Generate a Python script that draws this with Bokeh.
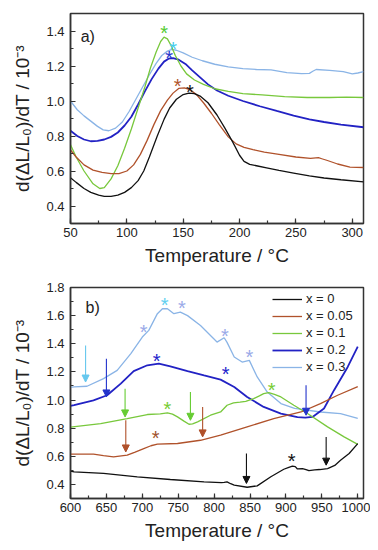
from bokeh.plotting import figure
from bokeh.layouts import column
from bokeh.models import (Range1d, SingleIntervalTicker, Label, Legend, LegendItem,
                          Arrow, NormalHead, ColumnDataSource, NumeralTickFormatter)
from bokeh.core.properties import value
from bokeh.embed import file_html
from bokeh.resources import INLINE

FONT = "Liberation Sans"

# ---------------- panel a) : 50-310 °C ----------------
a_t_x0 = [50, 55, 62, 68, 75, 80, 86, 92, 98, 104, 110, 115, 120, 127, 133, 138, 144, 150, 155, 160,
          165, 172, 180, 187, 194, 200, 204, 209, 215, 224, 235, 248, 262, 275, 290, 310]
a_v_x0 = [0.562, 0.535, 0.500, 0.478, 0.462, 0.455, 0.455, 0.462, 0.478, 0.505, 0.545, 0.600, 0.680,
          0.800, 0.895, 0.960, 1.010, 1.037, 1.045, 1.042, 1.028, 0.990, 0.920, 0.845, 0.765, 0.690,
          0.655, 0.638, 0.630, 0.618, 0.603, 0.588, 0.572, 0.560, 0.550, 0.538]

a_t_x005 = [50, 55, 62, 70, 78, 86, 93, 100, 106, 112, 118, 124, 130, 136, 141, 146, 151, 156, 162, 168,
            175, 182, 190, 197, 204, 212, 222, 235, 250, 263, 270, 273, 278, 287, 298, 310]
a_v_x005 = [0.72, 0.68, 0.635, 0.605, 0.592, 0.585, 0.585, 0.60, 0.635, 0.695, 0.775, 0.865, 0.945,
            1.005, 1.045, 1.072, 1.075, 1.065, 1.035, 0.99, 0.93, 0.865, 0.795, 0.755, 0.735, 0.722,
            0.708, 0.695, 0.680, 0.672, 0.676, 0.670, 0.660, 0.640, 0.622, 0.62]

a_t_x01 = [50, 55, 62, 70, 76, 80, 86, 92, 98, 104, 110, 116, 121, 126, 130, 133, 136, 139, 143, 148,
           153, 160, 168, 178, 190, 203, 220, 240, 260, 280, 295, 310]
a_v_x01 = [0.75, 0.68, 0.6, 0.527, 0.5, 0.505, 0.555, 0.63, 0.73, 0.84, 0.96, 1.08, 1.19, 1.28, 1.34,
           1.365, 1.355, 1.32, 1.26, 1.2, 1.155, 1.12, 1.095, 1.07, 1.055, 1.042, 1.035, 1.025, 1.02,
           1.02, 1.022, 1.02]

a_t_x02 = [50, 56, 62, 68, 74, 80, 86, 92, 98, 104, 110, 116, 122, 128, 133, 137, 141, 146, 152, 158,
           165, 172, 180, 190, 203, 218, 233, 248, 262, 275, 290, 310]
a_v_x02 = [0.83, 0.80, 0.78, 0.77, 0.772, 0.78, 0.795, 0.82, 0.86, 0.91, 0.98, 1.055, 1.125, 1.185,
           1.225, 1.242, 1.245, 1.236, 1.212, 1.175, 1.135, 1.095, 1.06, 1.03, 1.0, 0.97, 0.943, 0.917,
           0.895, 0.88, 0.865, 0.85]

a_t_x03 = [50, 56, 62, 68, 74, 79, 84, 90, 96, 102, 108, 114, 120, 126, 131, 136, 140, 144, 150, 158,
           167, 178, 190, 203, 215, 228, 242, 255, 262, 265, 268, 280, 292, 300, 305, 310]
a_v_x03 = [1.0, 0.95, 0.915, 0.885, 0.855, 0.835, 0.83, 0.845, 0.88, 0.94, 1.01, 1.08, 1.15, 1.215,
           1.26, 1.285, 1.295, 1.29, 1.275, 1.25, 1.23, 1.21, 1.195, 1.185, 1.18, 1.178, 1.162, 1.156,
           1.158, 1.17, 1.18, 1.175, 1.168, 1.155, 1.16, 1.168]

a_star_t = [133, 141, 137.5, 145, 156]
a_star_v = [1.415, 1.327, 1.276, 1.114, 1.08]
a_star_c = ["#55cc33", "#44ccee", "#2233cc", "#b0552d", "#111111"]

# ---------------- panel b) : 600-1000 °C ----------------
b_t_x0 = [600, 605, 646, 693, 739, 786, 810, 814, 818, 823, 828, 846, 860, 879, 897, 904, 909, 913,
          916, 923, 928, 932, 940, 947, 958, 968, 976, 988, 1000]
b_v_x0 = [0.495, 0.489, 0.478, 0.454, 0.435, 0.418, 0.413, 0.414, 0.418, 0.405, 0.395, 0.38, 0.39,
          0.455, 0.508, 0.522, 0.53, 0.527, 0.51, 0.513, 0.506, 0.498, 0.503, 0.506, 0.513, 0.535,
          0.572, 0.62, 0.69]

b_t_x005 = [600, 632, 646, 660, 679, 690, 702, 712, 721, 749, 781, 809, 846, 883, 921, 948, 972, 1000]
b_v_x005 = [0.615, 0.615, 0.605, 0.596, 0.608, 0.63, 0.655, 0.675, 0.686, 0.691, 0.714, 0.75, 0.809,
            0.868, 0.915, 0.975, 1.034, 1.095]

b_t_x01 = [600, 642, 679, 707, 725, 735, 742, 749, 758, 765, 770, 777, 795, 809, 818, 827, 836, 844,
           855, 863, 869, 876, 884, 893, 911, 930, 958, 981, 1000]
b_v_x01 = [0.808, 0.833, 0.868, 0.897, 0.902, 0.909, 0.9, 0.88, 0.85, 0.828, 0.83, 0.845, 0.892, 0.915,
           0.963, 0.98, 0.985, 0.991, 1.01, 1.03, 1.046, 1.053, 1.04, 1.022, 0.963, 0.904, 0.809,
           0.738, 0.685]

b_t_x02 = [600, 605, 632, 651, 670, 688, 707, 723, 739, 763, 786, 809, 828, 846, 869, 893, 916, 927,
           937, 953, 967, 986, 1000]
b_v_x02 = [0.958, 0.963, 0.998, 1.034, 1.117, 1.206, 1.247, 1.259, 1.24, 1.206, 1.175, 1.145, 1.093,
           1.022, 0.951, 0.904, 0.878, 0.875, 0.88, 0.94, 1.07, 1.235, 1.38]

b_t_x03 = [600, 605, 623, 646, 665, 684, 700, 709, 721, 728, 735, 744, 753, 763, 781, 804, 814, 818,
           828, 839, 849, 860, 874, 893, 912, 948, 976, 1000]
b_v_x03 = [1.09, 1.093, 1.098, 1.152, 1.211, 1.33, 1.448, 1.495, 1.614, 1.649, 1.649, 1.614, 1.625,
           1.60, 1.53, 1.412, 1.443, 1.41, 1.306, 1.27, 1.282, 1.164, 1.057, 0.975, 0.94, 0.915, 0.904,
           0.87]

b_star_t = [702, 731, 755, 815, 849, 720, 816, 735, 880, 718.5, 908]
b_star_v = [1.519, 1.708, 1.689, 1.49, 1.341, 1.31, 1.223, 0.975, 1.105, 0.766, 0.60]
b_star_c = ["#9aaae8", "#5fd0f0", "#9aaae8", "#9aaae8", "#9aaae8", "#2222cc", "#2222cc",
            "#77cc33", "#77cc33", "#a0522d", "#111111"]

# arrows: x, y_start, y_end, colour
arr_t = [621, 650, 676, 677, 767, 784, 928, 845, 956]
arr_v0 = [1.388, 1.294, 1.081, 0.856, 1.057, 0.951, 1.105, 0.62, 0.738]
arr_v1 = [1.128, 1.022, 0.88, 0.631, 0.856, 0.738, 0.892, 0.407, 0.537]
arr_c = ["#66c8ee", "#2233cc", "#66cc33", "#b0502a", "#66cc33", "#b0502a", "#2233cc",
         "#111111", "#111111"]

labels = ["x = 0", "x = 0.05", "x = 0.1", "x = 0.2", "x = 0.3"]
colors = ["#111111", "#b0522b", "#78c83c", "#2222c4", "#8ab4e6"]
widths = [1.3, 1.3, 1.3, 1.8, 1.3]

XLABEL = "Temperature / °C"
YLABEL = "d(\u0394L/L\u2080)/dT / 10\u207b\u00b3"


def style(p, xint, yint, ylab_standoff=10):
    p.grid.visible = False
    p.outline_line_color = "#333333"
    p.outline_line_width = 1.5
    p.outline_line_alpha = 1.0
    p.xaxis.ticker = SingleIntervalTicker(interval=xint, num_minor_ticks=2)
    p.yaxis.ticker = SingleIntervalTicker(interval=yint, num_minor_ticks=2)
    p.yaxis.formatter = NumeralTickFormatter(format="0.0")
    for ax in (p.xaxis[0], p.yaxis[0]):
        ax.major_tick_in = 5
        ax.major_tick_out = 0
        ax.minor_tick_in = 3
        ax.minor_tick_out = 0
        ax.axis_line_color = "#333333"
        ax.axis_line_width = 1.5
        ax.major_tick_line_color = "#333333"
        ax.minor_tick_line_color = "#333333"
        ax.major_tick_line_width = 1.2
        ax.minor_tick_line_width = 1.2
        ax.major_label_text_font = FONT
        ax.major_label_text_font_size = "13px"
        ax.major_label_text_color = "#222222"
        ax.axis_label_text_font = FONT
        ax.axis_label_text_font_style = "normal"
        ax.axis_label_text_font_size = "19px"
        ax.axis_label_text_color = "#222222"
    p.xaxis.axis_label = XLABEL
    p.yaxis.axis_label = YLABEL
    p.xaxis.major_label_standoff = 4
    p.xaxis.axis_label_standoff = 5
    p.yaxis.major_label_standoff = 6
    p.yaxis.axis_label_standoff = ylab_standoff


def stars(p, t, v, c):
    src = ColumnDataSource(dict(x=t, y=v, c=c, s=["*"] * len(t)))
    p.text(x="x", y="y", text="s", text_color="c", source=src, text_align="center",
           text_baseline="middle", text_font=value(FONT), text_font_size="20px", y_offset=5)


# ---------- figure a ----------
p1 = figure(width=370, height=268, output_backend="svg", toolbar_location=None,
            x_range=Range1d(50, 310), y_range=Range1d(0.3, 1.5),
            min_border_left=70, min_border_right=7, min_border_top=13, min_border_bottom=45)
style(p1, 50, 0.2)
a_series = [(a_t_x0, a_v_x0), (a_t_x005, a_v_x005), (a_t_x01, a_v_x01), (a_t_x02, a_v_x02),
            (a_t_x03, a_v_x03)]
for (t, v), c, w in zip(reversed(a_series), reversed(colors), reversed(widths)):
    p1.line(t, v, line_color=c, line_width=w)
stars(p1, a_star_t, a_star_v, a_star_c)
p1.add_layout(Label(x=59, y=1.37, text="a)", text_font=FONT, text_font_size="16px",
                    text_baseline="middle", text_color="#222222"))

# ---------- figure b ----------
p2 = figure(width=370, height=280, output_backend="svg", toolbar_location=None,
            x_range=Range1d(600, 1008), y_range=Range1d(0.3, 1.8),
            min_border_left=70, min_border_right=7, min_border_top=19, min_border_bottom=50)
style(p2, 50, 0.2)
b_series = [(b_t_x0, b_v_x0), (b_t_x005, b_v_x005), (b_t_x01, b_v_x01), (b_t_x02, b_v_x02),
            (b_t_x03, b_v_x03)]
rends = {}
for i in [4, 3, 2, 1, 0]:
    t, v = b_series[i]
    rends[i] = p2.line(t, v, line_color=colors[i], line_width=widths[i])
stars(p2, b_star_t, b_star_v, b_star_c)
for i in range(len(arr_t)):
    p2.add_layout(Arrow(end=NormalHead(size=7, fill_color=arr_c[i], line_color=arr_c[i]),
                        x_start=arr_t[i], y_start=arr_v0[i], x_end=arr_t[i], y_end=arr_v1[i],
                        line_color=arr_c[i], line_width=1.1))
p2.add_layout(Label(x=621, y=1.658, text="b)", text_font=FONT, text_font_size="16px",
                    text_baseline="middle", text_color="#222222"))

legend = Legend(items=[LegendItem(label=labels[i], renderers=[rends[i]]) for i in range(5)],
                location=(202, 124), glyph_width=30, glyph_height=14, label_height=14,
                label_standoff=4, spacing=2, padding=0, margin=0,
                background_fill_alpha=0, border_line_alpha=0,
                label_text_font=FONT, label_text_font_size="13px", label_text_color="#222222")
p2.add_layout(legend)

layout = column(p1, p2, spacing=0)
open("out.html", "w").write(file_html(layout, INLINE))
